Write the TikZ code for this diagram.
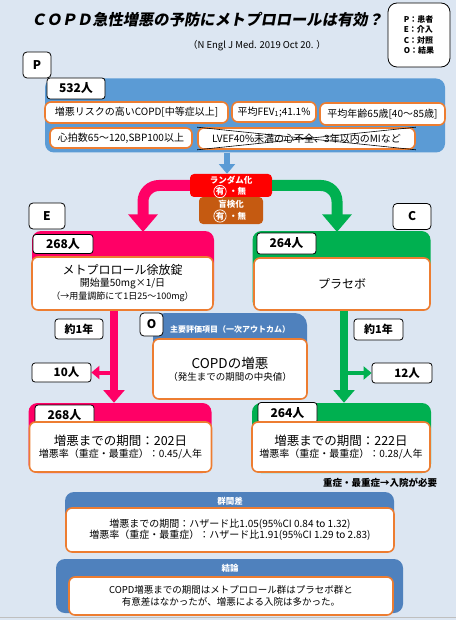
\documentclass[tikz,border=0pt]{standalone}
\usepackage{fontspec}
\setmainfont{Noto Sans CJK JP}
\newfontfamily\ttlfont{Noto Sans CJK JP}[FakeSlant=0.18]
\usetikzlibrary{arrows.meta,positioning}
\definecolor{bgc}{HTML}{DCE6F2}
\definecolor{pblue}{HTML}{5B9BD5}
\definecolor{oblue}{HTML}{4F81BD}
\definecolor{pinkc}{HTML}{FF0066}
\definecolor{greenc}{HTML}{00B050}
\definecolor{orc}{HTML}{ED7D31}
\definecolor{redc}{HTML}{FF0000}
\definecolor{brownc}{HTML}{C55A11}
\newcommand{\fsz}[2]{\fontsize{#1}{#2}\selectfont}
\tikzset{
  wh/.style 2 args={minimum width=#1pt,minimum height=#2pt},
  panel/.style={rounded corners=9pt,inner sep=0pt},
  tab/.style={draw=black,line width=0.8pt,fill=white,rounded corners=3pt,inner sep=0pt,font=\bfseries\fsz{12}{12}},
  tagbox/.style={draw=black,line width=0.8pt,fill=white,rounded corners=4pt,inner sep=0pt,font=\bfseries\fsz{12}{12}},
  ibox/.style={draw=orc,line width=1.6pt,fill=white,rounded corners=6pt,inner sep=0pt,align=center},
  hdr/.style={white,font=\bfseries\fsz{8.5}{9}},
  yes/.style={circle,draw=black,line width=0.7pt,inner sep=0.2pt,white,font=\bfseries\fsz{8.5}{9}},
  big/.style={line width=#1,-{Triangle[length=1.6*#1,width=2.6*#1]}}
}
\begin{document}
\begin{tikzpicture}[x=1pt,y=-1pt]
\fill[bgc] (0,0) rectangle (456,620);
\useasboundingbox (0,0) rectangle (456,620);
\draw[gray!50,line width=1pt] (0,617) -- (456,617);

\node[font=\ttlfont\bfseries\fsz{15.3}{15}] (title) at (207,20) {ＣＯＰＤ急性増悪の予防にメトプロロールは有効？};
\node[font=\fsz{9.5}{10}] (cite) at (257,46) {（N Engl J Med. 2019 Oct 20. ）};
\node[tagbox,wh={62}{64},rounded corners=9pt,align=left,font=\bfseries\fsz{8}{10.5}] (legend) at (419,35) {P：患者\\E：介入\\C：対照\\O：結果};

\node[tagbox,wh={28}{26}] (ptag) at (37,65) {P};
\node[panel,fill=pblue,wh={400}{74}] (ppanel) at (245,115.5) {};
\node[tab,wh={58}{21}] (pnum) at (76,88.5) {532人};
\node[ibox,wh={183}{21},font=\fsz{10}{12}] (pa) at (136.5,112.5) {増悪リスクの高いCOPD[中等症以上]};
\node[ibox,wh={84}{20},font=\fsz{10}{12}] (pb) at (274,112) {平均FEV\textsubscript{1};41.1\%};
\node[ibox,wh={125}{22},font=\fsz{10}{12}] (pc) at (382.5,114) {平均年齢65歳[40〜85歳]};
\node[ibox,wh={142}{20},font=\fsz{10}{12}] (pd) at (121,138) {心拍数65〜120,SBP100以上};
\node[ibox,wh={217}{21},font=\fsz{10}{12}] (pe) at (306.5,138.5) {LVEF40\%未満の心不全、3年以内のMIなど};
\draw[line width=0.6pt] (pe.north west) -- (pe.south east) (pe.south west) -- (pe.north east);

\coordinate (parr) at (227,0);
\node[fill=brownc,rounded corners=4pt,wh={64}{27}] (blind) at (231,210.5) {};
\node[fill=redc,rounded corners=4pt,wh={82}{23}] (rand) at (231,185.5) {};
\draw[pblue,big=6pt] (ppanel.south -| parr) -- (rand.north -| parr);

\coordinate (einl) at (143,232);
\coordinate (cinl) at (337,232);
\draw[pinkc,big=11pt,rounded corners=16pt] (rand.west) -| (einl);
\draw[greenc,big=11pt,rounded corners=16pt] (rand.east) -| (cinl);

\node[hdr] (randt) at (231,180) {ランダム化};
\node[yes] (ryes) at (220,191.5) {有};
\node[hdr,right=-1pt of ryes] (rno) {・無};
\node[hdr] (blindt) at (231,204) {盲検化};
\node[yes] (byes) at (220,216) {有};
\node[hdr,right=-1pt of byes] (bno) {・無};

\node[tagbox,wh={36}{26}] (etag) at (47,216) {E};
\node[tagbox,wh={38}{26}] (ctag) at (412,216.5) {C};

\node[panel,fill=pinkc,wh={182}{79}] (epanel) at (123,270.5) {};
\node[tab,wh={60}{19}] (enum) at (63,244) {268人};
\node[ibox,wh={181}{53}] (ebox) at (122.5,283.5) {\fsz{12}{14}メトプロロール徐放錠\\開始量50mg×1/日\\[1pt]{\fsz{9}{11}（→用量調節にて1日25〜100mg）}};
\node[panel,fill=greenc,wh={178}{79}] (cpanel) at (341.5,270.5) {};
\node[tab,wh={59}{21}] (cnum) at (286.5,243.5) {264人};
\node[ibox,wh={176}{52},font=\fsz{12}{14}] (cbox) at (342,284) {プラセボ};

\node[tab,wh={48}{20},font=\bfseries\fsz{11}{11}] (eyr) at (79,329) {約1年};
\node[tab,wh={49}{21},font=\bfseries\fsz{11}{11}] (cyr) at (378.5,329.5) {約1年};
\node[tab,wh={59}{19},font=\bfseries\fsz{11.5}{11.5}] (eout) at (61.5,372.5) {\hspace{10pt}10人};
\node[tab,wh={60}{20},font=\bfseries\fsz{11.5}{11.5}] (cout) at (402,373) {\hspace{10pt}12人};

\node[panel,fill=oblue,rounded corners=12pt,wh={154}{86}] (opanel) at (230,356) {};
\node[tagbox,wh={23}{23}] (otag) at (151.5,324.5) {O};
\node[hdr,font=\bfseries\fsz{8}{9}] (ohdr) at (230,329) {主要評価項目（一次アウトカム）};
\node[ibox,wh={154}{60}] (obox) at (230,369) {\fsz{13.5}{16}COPDの増悪\\{\fsz{9.5}{11}（発生までの期間の中央値）}};

\node[panel,fill=pinkc,wh={183}{70}] (epanel2) at (120,438) {};
\node[panel,fill=greenc,wh={179}{70}] (cpanel2) at (341.5,438) {};

\coordinate (edown) at (114,0);
\coordinate (cdown) at (344,0);
\draw[pinkc,big=8pt] (ebox.south -| edown) -- (epanel2.north -| edown);
\draw[greenc,big=8pt] (cbox.south -| cdown) -- (cpanel2.north -| cdown);
\draw[pinkc,line width=4pt,-{Triangle[length=8pt,width=13pt]}] (eout.east -| edown) -- (eout.east);
\draw[greenc,line width=4pt,-{Triangle[length=8pt,width=13pt]}] (cout.west -| cdown) -- (cout.west);

\node[tab,wh={59}{20}] (enum2) at (64.5,415) {268人};
\node[ibox,wh={182}{50}] (ebox2) at (120.5,447) {\fsz{12.5}{15}増悪までの期間：202日\\{\fsz{10}{12}増悪率（重症・最重症）：0.45/人年}};
\node[tab,wh={59}{21}] (cnum2) at (287.5,413) {264人};
\node[ibox,wh={178}{50}] (cbox2) at (341,447) {\fsz{12.5}{15}増悪までの期間：222日\\{\fsz{10}{12}増悪率（重症・最重症）：0.28/人年}};
\node[font=\bfseries\fsz{9.5}{10}] (note) at (380,483) {重症・最重症→入院が必要};

\node[panel,fill=oblue,wh={329}{60}] (dpanel) at (229.5,522) {};
\node[hdr] (dhdr) at (230,501) {群間差};
\node[ibox,wh={328}{44},font=\fsz{10}{11.5}] (dbox) at (230,530) {増悪までの期間：ハザード比1.05(95\%CI 0.84 to 1.32)\\増悪率（重症・最重症）：ハザード比1.91(95\%CI 1.29 to 2.83)};

\node[panel,fill=oblue,wh={347}{54}] (kpanel) at (229.5,586) {};
\node[hdr] (khdr) at (230,568) {結論};
\node[ibox,wh={324}{38},font=\fsz{9.5}{12}] (kbox) at (231,596) {COPD増悪までの期間はメトプロロール群はプラセボ群と\\有意差はなかったが、増悪による入院は多かった。};
\end{tikzpicture}
\end{document}
